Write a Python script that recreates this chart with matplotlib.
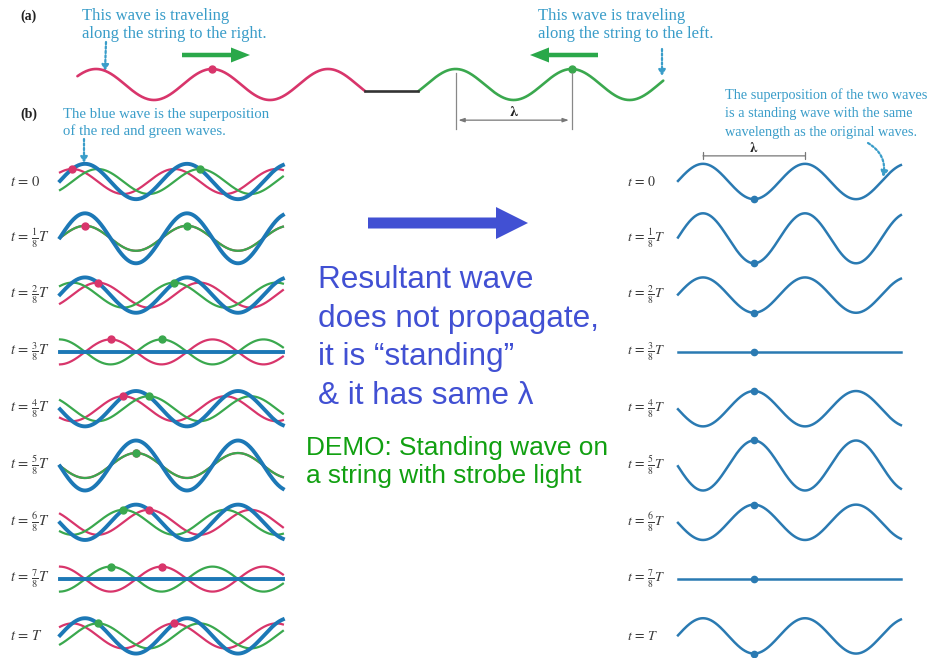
import numpy as np
import matplotlib
matplotlib.use('Agg')
import matplotlib.pyplot as plt

plt.rcParams['mathtext.fontset'] = 'stix'

# ---------------- data ----------------
time_fracs = [0, 1/8, 2/8, 3/8, 4/8, 5/8, 6/8, 7/8, 1]
time_labels = [r'$t\,=\,0$', r'$t\,=\,\frac{1}{8}T$', r'$t\,=\,\frac{2}{8}T$',
               r'$t\,=\,\frac{3}{8}T$', r'$t\,=\,\frac{4}{8}T$', r'$t\,=\,\frac{5}{8}T$',
               r'$t\,=\,\frac{6}{8}T$', r'$t\,=\,\frac{7}{8}T$', r'$t\,=\,T$']
wave_amplitude = 1.0           # amplitude of each travelling wave
phase_ref = 1 / 8              # time (in T) at which red and green coincide
string_span = [-0.245, 1.94]   # string extent, in wavelengths
red_dot_x0 = -0.125            # tagged red crest at t = 0 (wavelengths)
green_dot_x0 = 1.125           # tagged green crest at t = 0 (wavelengths)
standing_dot_x = 0.5           # tagged antinode of the standing wave

# panel (a): x in wavelengths measured from the tagged red crest
a_red_span = [-1.16, 1.32]
a_green_span = [1.78, 3.89]
a_green_crest = 3.1

# ---------------- layout / style ----------------
W, H = 933, 658
RED = '#d8356b'
GREEN = '#3aa84e'
BLUE = '#1c78b6'
BLUE_R = '#2a7ab2'
CAP = '#3a9dc9'
LAB = '#3a3a3a'

fig = plt.figure(figsize=(W / 100, H / 100), dpi=100)
ax = fig.add_axes([0, 0, 1, 1])
ax.set_xlim(0, W)
ax.set_ylim(H, 0)
ax.axis('off')


def sub_axes(cx, cy, lam_px, amp_px, xlo, xhi, yh=3.2):
    left = cx + xlo * lam_px
    right = cx + xhi * lam_px
    top = cy - yh * amp_px
    bot = cy + yh * amp_px
    a = fig.add_axes([left / W, 1 - bot / H, (right - left) / W, (bot - top) / H])
    a.set_xlim(xlo, xhi)
    a.set_ylim(-yh, yh)
    a.axis('off')
    return a


def red_wave(x, t):
    return wave_amplitude * np.cos(2 * np.pi * (x - (t - phase_ref)))


def green_wave(x, t):
    return wave_amplitude * np.cos(2 * np.pi * (x + (t - phase_ref)))


serif = 'Liberation Serif'

# ---------------- panel (a) ----------------
ax.text(20, 20, '(a)', fontsize=10, fontweight='bold', family=serif, color='#222')
axa = sub_axes(212, 84.5, 116, 15.5, -1.4, 4.1)
xr = np.linspace(a_red_span[0], a_red_span[1], 300)
yr = wave_amplitude * np.cos(2 * np.pi * xr)
xg = np.linspace(a_green_span[0], a_green_span[1], 300)
yg = wave_amplitude * np.cos(2 * np.pi * (xg - a_green_crest))
axa.plot(xr, yr, color=RED, lw=1.9, clip_on=False, solid_capstyle='round')
axa.plot(xg, yg, color=GREEN, lw=1.9, clip_on=False, solid_capstyle='round')
axa.plot([xr[-1], xg[0]], [yr[-1], yr[-1]], color='#333', lw=1.9, clip_on=False)
axa.plot([0], [wave_amplitude], 'o', color=RED, ms=5, clip_on=False)
axa.plot([a_green_crest], [wave_amplitude], 'o', color=GREEN, ms=5, clip_on=False)
# wavelength bracket
for xv in (a_green_crest - 1, a_green_crest):
    axa.plot([xv, xv], [0.75, -2.85], color='#888', lw=0.9, clip_on=False)
axa.annotate('', xy=(a_green_crest, -2.3), xytext=(a_green_crest - 1, -2.3),
             arrowprops=dict(arrowstyle='<|-|>,head_length=0.35,head_width=0.12',
                             color='#777', lw=0.9), annotation_clip=False)
axa.text(a_green_crest - 0.5, -1.75, r'$\mathbf{\lambda}$', fontsize=11,
         ha='center', va='center', color='#222')

ax.text(82, 20, 'This wave is traveling', fontsize=12, family=serif, color=CAP)
ax.text(82, 38, 'along the string to the right.', fontsize=12, family=serif, color=CAP)
ax.text(538, 20, 'This wave is traveling', fontsize=12, family=serif, color=CAP)
ax.text(538, 38, 'along the string to the left.', fontsize=12, family=serif, color=CAP)

ax.arrow(182, 55, 68, 0, width=4.5, head_width=15, head_length=19,
         length_includes_head=True, color='#2aa84a', lw=0)
ax.arrow(598, 55, -68, 0, width=4.5, head_width=15, head_length=19,
         length_includes_head=True, color='#2aa84a', lw=0)

dot_arrow = dict(arrowstyle='-|>,head_length=0.35,head_width=0.2', ls=(0, (1, 1)),
                 lw=1.6, color=CAP, shrinkA=0, shrinkB=0)
ax.annotate('', xy=(105, 71), xytext=(106, 42), arrowprops=dot_arrow)
ax.annotate('', xy=(662, 76), xytext=(662, 49), arrowprops=dot_arrow)

# ---------------- panel (b) ----------------
ax.text(20, 118, '(b)', fontsize=10, fontweight='bold', family=serif, color='#222')
ax.text(63, 118, 'The blue wave is the superposition', fontsize=10.6, family=serif, color=CAP)
ax.text(63, 135, 'of the red and green waves.', fontsize=10.6, family=serif, color=CAP)
ax.annotate('', xy=(84, 163), xytext=(84, 139), arrowprops=dot_arrow)

ax.text(725, 99, 'The superposition of the two waves', fontsize=10.3, family=serif, color=CAP)
ax.text(725, 117, 'is a standing wave with the same', fontsize=10.3, family=serif, color=CAP)
ax.text(725, 136, 'wavelength as the original waves.', fontsize=10.3, family=serif, color=CAP)
curved = dict(dot_arrow)
curved['connectionstyle'] = 'arc3,rad=-0.35'
ax.annotate('', xy=(883, 177), xytext=(868, 143), arrowprops=curved)

row0, row_gap = 181.5, 56.8
xs = np.linspace(string_span[0], string_span[1], 400)
for k, (t, lab) in enumerate(zip(time_fracs, time_labels)):
    cy = row0 + k * row_gap
    # left: travelling waves and their sum
    axl = sub_axes(85, cy, 102, 12.5, -0.35, 2.05)
    r = red_wave(xs, t)
    g = green_wave(xs, t)
    axl.plot(xs, r, color=RED, lw=1.6, clip_on=False)
    axl.plot(xs, g, color=GREEN, lw=1.6, clip_on=False)
    axl.plot(xs, r + g, color=BLUE, lw=2.8, clip_on=False)
    rdx = red_dot_x0 + t
    gdx = green_dot_x0 - t
    axl.plot([rdx], [red_wave(rdx, t)], 'o', color=RED, ms=5, clip_on=False, zorder=5)
    axl.plot([gdx], [green_wave(gdx, t)], 'o', color=GREEN, ms=5, clip_on=False, zorder=5)
    ax.text(10, cy, lab, fontsize=10.5, color=LAB, ha='left', va='center')

    # right: standing wave
    axr = sub_axes(703, cy, 102, 12.5, -0.35, 2.05)
    axr.plot(xs, red_wave(xs, t) + green_wave(xs, t), color=BLUE_R, lw=1.8, clip_on=False)
    sy = red_wave(standing_dot_x, t) + green_wave(standing_dot_x, t)
    axr.plot([standing_dot_x], [sy], 'o', color=BLUE_R, ms=4.5, clip_on=False, zorder=5)
    ax.text(627, cy, lab, fontsize=10, color=LAB, ha='left', va='center')
    if k == 0:
        axr.annotate('', xy=(1, 2.05), xytext=(0, 2.05),
                     arrowprops=dict(arrowstyle='|-|,widthA=0.25,widthB=0.25',
                                     color='#777', lw=0.9, shrinkA=0, shrinkB=0),
                     annotation_clip=False)
        axr.text(0.5, 2.65, r'$\mathbf{\lambda}$', fontsize=10, ha='center',
                 va='center', color='#222')

# ---------------- middle annotation ----------------
ax.arrow(368, 223, 160, 0, width=11, head_width=32, head_length=32,
         length_includes_head=True, color='#4150d3', lw=0)
msg = ['Resultant wave', 'does not propagate,', 'it is \u201cstanding\u201d',
       '& it has same \u03bb']
for i, line in enumerate(msg):
    ax.text(318, 288 + i * 38.5, line, fontsize=22.7, family='Liberation Sans',
            color='#4150d3', va='baseline')
demo = ['DEMO: Standing wave on', 'a string with strobe light']
for i, line in enumerate(demo):
    ax.text(306, 455 + i * 28.5, line, fontsize=18.9, family='Liberation Sans',
            color='#11a011', va='baseline')

fig.savefig('out.png', dpi=100)
